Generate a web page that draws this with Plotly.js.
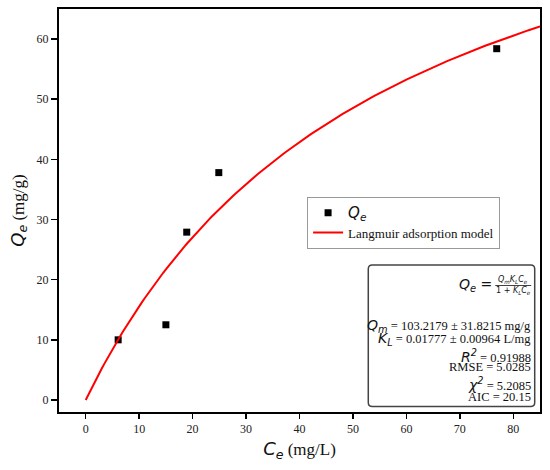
<!DOCTYPE html>
<html>
<head>
<meta charset="utf-8">
<script src="https://cdn.plot.ly/plotly-3.0.1.min.js"></script>
<style>html,body{margin:0;padding:0;background:#fff;}#chart{width:550px;height:470px;}</style>
</head>
<body>
<div id="chart"></div>
<script>
// Measured data (Ce in mg/L, Qe in mg/g)
var ceValues = [6.07, 15.0, 18.9, 24.9, 76.9];
var qeValues = [10.0, 12.5, 27.9, 37.8, 58.4];
// Fitted Langmuir parameters shown on the chart
var Qm = 103.2179;
var KL = 0.01777;
var fitStart = 0, fitEnd = 85, fitSteps = 170;
var xTicks = [0, 10, 20, 30, 40, 50, 60, 70, 80];
var yTicks = [0, 10, 20, 30, 40, 50, 60];
var statLines = [
  "<span style=\"font-family:DejaVu Sans;font-style:italic;font-size:14px\">Q<sub>m</sub></span> = 103.2179 ± 31.8215 mg/g",
  "<span style=\"font-family:DejaVu Sans;font-style:italic;font-size:14px\">K<sub>L</sub></span> = 0.01777 ± 0.00964 L/mg",
  "<span style=\"font-family:DejaVu Sans;font-style:italic;font-size:14px\">R<sup>2</sup></span> = 0.91988",
  "RMSE = 5.0285",
  "<span style=\"font-family:DejaVu Sans;font-style:italic;font-size:14px\">χ<sup>2</sup></span> = 5.2085",
  "AIC = 20.15"
];
var statY = [326.3, 339.3, 356, 367, 384, 397.5];

// Langmuir model curve from the fitted parameters
var fitX = [], fitY = [];
for (var i = 0; i <= fitSteps; i++) {
  var c = fitStart + (fitEnd - fitStart) * i / fitSteps;
  fitX.push(c);
  fitY.push(Qm * KL * c / (1 + KL * c));
}

var W = 550, H = 470;
var L = 58.5, R = 540.3, T = 9.3, B = 412.3;
function px(x) { return (x - L) / (R - L); }
function py(y) { return (B - y) / (B - T); }

var serif = "Liberation Serif";
var sans = "DejaVu Sans";

var traces = [
  {
    x: ceValues, y: qeValues, mode: "markers", type: "scatter",
    name: "<span style=\"font-family:DejaVu Sans;font-style:italic;font-size:15px\">Q<sub>e</sub></span>",
    marker: {symbol: "square", size: 7, color: "#000"}
  },
  {
    x: fitX, y: fitY, mode: "lines", type: "scatter",
    name: "Langmuir adsorption model",
    line: {color: "#ff0000", width: 2}
  }
];

var annotations = [];
for (var k = 0; k < statLines.length; k++) {
  annotations.push({
    xref: "paper", yref: "paper", x: px(533.5), y: py(statY[k]),
    xanchor: "right", yanchor: "middle", showarrow: false,
    text: statLines[k], font: {family: serif, size: 12.5, color: "#111"}
  });
}
// Formula Qe = QmKLCe / (1 + KLCe)
annotations.push({
  xref: "paper", yref: "paper", x: px(494), y: py(285.5),
  xanchor: "right", yanchor: "middle", showarrow: false,
  text: "<span style=\"font-style:italic\">Q<sub>e</sub></span> <span style=\"font-style:normal\">=</span>",
  font: {family: sans, size: 14, color: "#111"}
});
annotations.push({
  xref: "paper", yref: "paper", x: px(513.5), y: py(280.3),
  xanchor: "center", yanchor: "middle", showarrow: false,
  text: "<i>Q<sub>m</sub>K<sub>L</sub>C<sub>e</sub></i>",
  font: {family: sans, size: 8, color: "#111"}
});
annotations.push({
  xref: "paper", yref: "paper", x: px(513.5), y: py(291.3),
  xanchor: "center", yanchor: "middle", showarrow: false,
  text: "1 + <i>K<sub>L</sub>C<sub>e</sub></i>",
  font: {family: sans, size: 8, color: "#111"}
});

// rounded box for statistics
var bx0 = px(368.3), bx1 = px(535), by0 = py(406.7), by1 = py(265.3);
var rx = 4 / (R - L), ry = 4 / (B - T);
var boxPath = "M" + (bx0 + rx) + "," + by0 +
  " L" + (bx1 - rx) + "," + by0 +
  " Q" + bx1 + "," + by0 + " " + bx1 + "," + (by0 + ry) +
  " L" + bx1 + "," + (by1 - ry) +
  " Q" + bx1 + "," + by1 + " " + (bx1 - rx) + "," + by1 +
  " L" + (bx0 + rx) + "," + by1 +
  " Q" + bx0 + "," + by1 + " " + bx0 + "," + (by1 - ry) +
  " L" + bx0 + "," + (by0 + ry) +
  " Q" + bx0 + "," + by0 + " " + (bx0 + rx) + "," + by0 + " Z";

var shapes = [
  {type: "path", xref: "paper", yref: "paper", path: boxPath,
   line: {color: "#444", width: 1.5}, fillcolor: "rgba(255,255,255,0.8)", layer: "above"},
  {type: "line", xref: "paper", yref: "paper",
   x0: px(495.5), x1: px(531.5), y0: py(285.8), y1: py(285.8),
   line: {color: "#111", width: 0.8}, layer: "above"}
];

var layout = {
  width: W, height: H,
  margin: {l: L, r: W - R, t: T, b: H - B, pad: 0},
  paper_bgcolor: "#fff", plot_bgcolor: "#fff",
  showlegend: true,
  legend: {
    x: px(307), y: py(197), xanchor: "left", yanchor: "top",
    bgcolor: "rgba(255,255,255,0.8)", bordercolor: "#999", borderwidth: 1,
    font: {family: serif, size: 13, color: "#111"},
    tracegroupgap: 0
  },
  xaxis: {
    range: [-5, 85], tickvals: xTicks, ticktext: xTicks.map(String),
    showline: true, mirror: true, linecolor: "#000", linewidth: 2,
    ticks: "outside", ticklen: 5, tickwidth: 1.5, tickcolor: "#000",
    showgrid: false, zeroline: false,
    tickfont: {family: serif, size: 12, color: "#222"},
    title: {
      text: "<span style=\"font-family:DejaVu Sans;font-style:italic;font-size:18px\">C<sub>e</sub></span> (mg/L)",
      font: {family: serif, size: 17, color: "#111"}, standoff: 8
    }
  },
  yaxis: {
    range: [-2, 65], tickvals: yTicks, ticktext: yTicks.map(String),
    showline: true, mirror: true, linecolor: "#000", linewidth: 2,
    ticks: "outside", ticklen: 6, tickwidth: 1.5, tickcolor: "#000",
    showgrid: false, zeroline: false,
    tickfont: {family: serif, size: 12, color: "#222"},
    title: {
      text: "<span style=\"font-family:DejaVu Sans;font-style:italic;font-size:18px\">Q<sub>e</sub></span> (mg/g)",
      font: {family: serif, size: 17, color: "#111"}, standoff: 8
    }
  },
  annotations: annotations,
  shapes: shapes
};

Plotly.newPlot("chart", traces, layout, {displayModeBar: false, staticPlot: true});
</script>
</body>
</html>
